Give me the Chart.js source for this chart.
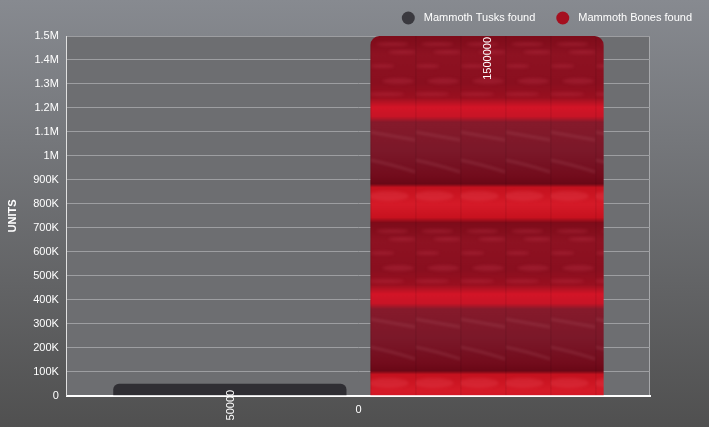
<!DOCTYPE html>
<html><head><meta charset="utf-8">
<script src="https://cdn.jsdelivr.net/npm/chart.js@4"></script>
<style>
html,body{margin:0;padding:0;}
#wrap{width:709px;height:427px;background:linear-gradient(#878a90,#505050);}
canvas{display:block;}
</style></head>
<body><div id="wrap"><canvas id="c" width="709" height="427"></canvas></div>
<script>
const categories = ['0'];
const seriesNames = ['Mammoth Tusks found', 'Mammoth Bones found'];
const tusksValues = [50000];
const bonesValues = [1500000];
const yTickLabels = ['0','100K','200K','300K','400K','500K','600K','700K','800K','900K','1M','1.1M','1.2M','1.3M','1.4M','1.5M'];

// red texture tile
function makeTile(){
  const t = document.createElement('canvas'); t.width = 45; t.height = 187;
  const g = t.getContext('2d');
  const lg = g.createLinearGradient(0,0,0,187);
  lg.addColorStop(0.00,'#7e0c1a');
  lg.addColorStop(0.10,'#8e1222');
  lg.addColorStop(0.25,'#8a0f1f');
  lg.addColorStop(0.33,'#9a1020');
  lg.addColorStop(0.38,'#d31527');
  lg.addColorStop(0.43,'#c81426');
  lg.addColorStop(0.46,'#861a2b');
  lg.addColorStop(0.62,'#7b1829');
  lg.addColorStop(0.75,'#730c1c');
  lg.addColorStop(0.79,'#6a0816');
  lg.addColorStop(0.81,'#c5121f');
  lg.addColorStop(0.90,'#d51a28');
  lg.addColorStop(0.97,'#c8121f');
  lg.addColorStop(1.00,'#7a0a18');
  g.fillStyle = lg; g.fillRect(0,0,45,187);
  g.filter = 'blur(1.5px)';
  g.fillStyle = 'rgba(215,70,90,0.22)';
  [[22,8,16,2],[32,16,14,2],[12,30,12,2],[28,45,16,3],[16,58,18,2]].forEach(e=>{g.beginPath();g.ellipse(e[0],e[1],e[2],e[3],0,0,Math.PI*2);g.fill();});
  g.strokeStyle = 'rgba(200,120,130,0.25)'; g.lineWidth = 2;
  g.beginPath(); g.moveTo(0,96); g.lineTo(45,104); g.stroke();
  g.beginPath(); g.moveTo(0,124); g.quadraticCurveTo(20,128,45,136); g.stroke();
  g.fillStyle = 'rgba(235,80,90,0.25)';
  g.beginPath(); g.ellipse(18,160,20,5,0,0,Math.PI*2); g.fill();
  g.filter = 'none';
  g.fillStyle = 'rgba(0,0,0,0.10)'; g.fillRect(0,0,1,187);
  return t;
}
const tileCanvas = makeTile();
const tmpCtx = document.createElement('canvas').getContext('2d');
const redPattern = tmpCtx.createPattern(tileCanvas,'repeat');
const legendColors = ['#3a393f','#a50f1f'];

const plotBg = {
  id:'plotBg',
  beforeDraw(chart){
    const {ctx, chartArea:a} = chart;
    ctx.save();
    ctx.fillStyle = '#6d6e71';
    ctx.fillRect(a.left,a.top,a.right-a.left,a.bottom-a.top);
    ctx.strokeStyle = '#a7a8ab'; ctx.lineWidth = 1;
    ctx.beginPath(); ctx.moveTo(a.left,a.top+0.5); ctx.lineTo(a.right-0.5,a.top+0.5); ctx.lineTo(a.right-0.5,a.bottom); ctx.stroke();
    ctx.restore();
  },
  beforeDatasetsDraw(chart){
    const el = chart.getDatasetMeta(1).data[0];
    if (el && redPattern.setTransform) {
      redPattern.setTransform(new DOMMatrix().translate(el.x - el.width/2, el.y));
    }
  },
  afterDraw(chart){
    // legend
    const ctx = chart.ctx;
    ctx.save();
    ctx.font = '11px "Liberation Sans", Arial, sans-serif';
    ctx.textBaseline = 'middle';
    let x = chart.width - 17;
    const y = 18;
    for (let i = seriesNames.length - 1; i >= 0; i--) {
      const w = ctx.measureText(seriesNames[i]).width;
      const tx = x - w;
      ctx.fillStyle = '#ffffff';
      ctx.textAlign = 'left';
      ctx.fillText(seriesNames[i], tx, y);
      ctx.fillStyle = legendColors[i];
      ctx.beginPath(); ctx.arc(tx - 9 - 6.5, y, 6.5, 0, Math.PI*2); ctx.fill();
      x = tx - 9 - 13 - 21;
    }
    ctx.restore();
  }
};
const valueLabels = {
  id:'valueLabels',
  afterDatasetsDraw(chart){
    const ctx = chart.ctx;
    ctx.save();
    ctx.font = '11px "Liberation Sans", Arial, sans-serif';
    ctx.fillStyle = '#ffffff';
    chart.data.datasets.forEach((ds,di)=>{
      chart.getDatasetMeta(di).data.forEach((bar,i)=>{
        const txt = String(ds.data[i]);
        const w = ctx.measureText(txt).width;
        const h = bar.base - bar.y;
        const y = w > h ? bar.y + 6 : bar.y + 1;
        ctx.save();
        ctx.translate(bar.x + 1, y);
        ctx.rotate(-Math.PI/2);
        ctx.textAlign = 'right'; ctx.textBaseline = 'middle';
        ctx.fillText(txt,0,0);
        ctx.restore();
      });
    });
    ctx.restore();
  }
};

Chart.defaults.font.family = '"Liberation Sans", Arial, sans-serif';
Chart.defaults.color = '#ffffff';

new Chart(document.getElementById('c'), {
  type:'bar',
  data:{
    labels: categories,
    datasets:[
      {label:seriesNames[0], data:tusksValues, backgroundColor:'#2f2e33', borderRadius:{topLeft:7,topRight:7}, borderSkipped:'bottom'},
      {label:seriesNames[1], data:bonesValues, backgroundColor:redPattern, borderRadius:{topLeft:9,topRight:9}, borderSkipped:'bottom'}
    ]
  },
  options:{
    responsive:false, animation:false,
    devicePixelRatio:1,
    categoryPercentage:0.882, barPercentage:0.907,
    layout:{padding:{left:6,right:59,top:36,bottom:2}},
    plugins:{
      legend:{display:false},
      tooltip:{enabled:false}
    },
    scales:{
      x:{grid:{display:false, drawTicks:false}, border:{color:'#ffffff', width:2},
         ticks:{color:'#ffffff', font:{size:11}, padding:8}},
      y:{min:0, max:1500000,
         ticks:{stepSize:100000, color:'#ffffff', font:{size:11}, padding:8, callback:(v,i)=>yTickLabels[i]},
         grid:{color:'#9d9ea1', drawTicks:false}, border:{color:'#e0e0e0', width:1},
         title:{display:true, text:'UNITS', color:'#ffffff', font:{size:11, weight:'bold'}, padding:{top:0,bottom:6}}}
    }
  },
  plugins:[plotBg, valueLabels]
});
</script></body></html>
